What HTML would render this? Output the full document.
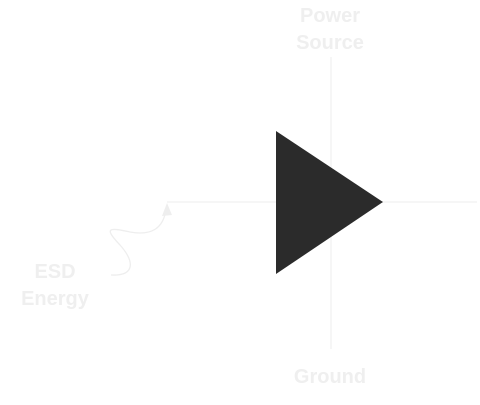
<!DOCTYPE html>
<html><head><meta charset="utf-8"><style>
html,body{margin:0;padding:0;background:#fff;}
svg{display:block;}
text{font-family:"Liberation Sans",sans-serif;font-size:20px;font-weight:bold;fill:#efefef;text-anchor:middle;}
</style></head><body>
<svg width="480" height="405" viewBox="0 0 480 405">
<line x1="331" y1="57" x2="331" y2="349" stroke="#eeeeee" stroke-width="1"/>
<line x1="167" y1="202" x2="477" y2="202" stroke="#eeeeee" stroke-width="1"/>
<polygon points="276,131 276,274 383,202" fill="#2b2b2b"/>
<path d="M111,275 C135,276 135,262 120,245 C104,228 108,227 130,232 C152,236 163,228 166,210" fill="none" stroke="#eeeeee" stroke-width="1.3"/>
<polygon points="167,203 162,216 172,215" fill="#eeeeee"/>
<text x="330" y="22">Power</text>
<text x="330" y="49">Source</text>
<text x="330" y="383">Ground</text>
<text x="55" y="278">ESD</text>
<text x="55" y="305">Energy</text>
</svg>
</body></html>
